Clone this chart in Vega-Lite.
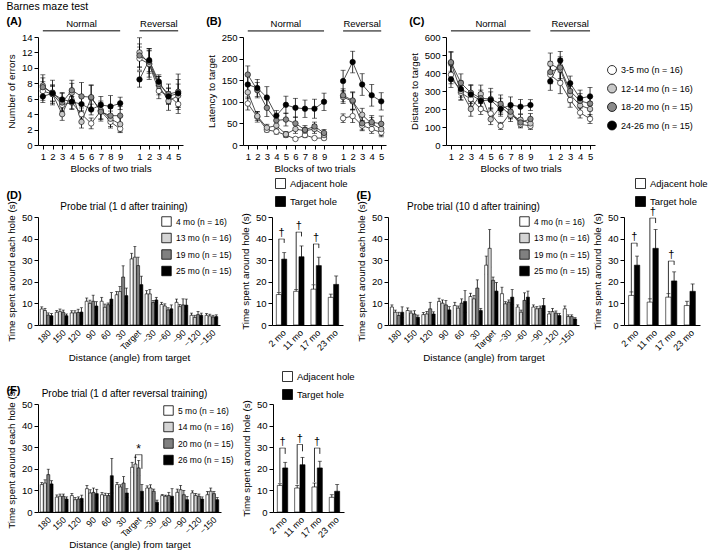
{
"$schema":"https://vega.github.io/schema/vega-lite/v6.json",
"padding":{"left":6,"top":2,"right":0,"bottom":0},
"title":{"text":"Barnes maze test","anchor":"start","frame":"bounds","fontSize":10.5,"fontWeight":"normal","offset":3},
"datasets":{
"phaseLines":[{"b":"N1","to":"N9"},{"b":"R1","to":"R5"}],
"phaseText":[{"p":"Normal","b":"N5"},{"p":"Reversal","b":"R3"}],
"errors":[
{"g":"3-5 mo (n = 16)","p":"Normal","b":"N1","v":7.0,"e":1.2},{"g":"12-14 mo (n = 16)","p":"Normal","b":"N1","v":7.7,"e":1.4},{"g":"18-20 mo (n = 15)","p":"Normal","b":"N1","v":7.5,"e":1.2},{"g":"24-26 mo (n = 15)","p":"Normal","b":"N1","v":6.3,"e":0.8},
{"g":"3-5 mo (n = 16)","p":"Normal","b":"N2","v":6.6,"e":1.0},{"g":"12-14 mo (n = 16)","p":"Normal","b":"N2","v":6.6,"e":1.2},{"g":"18-20 mo (n = 15)","p":"Normal","b":"N2","v":6.8,"e":1.6},{"g":"24-26 mo (n = 15)","p":"Normal","b":"N2","v":6.7,"e":1.0},
{"g":"3-5 mo (n = 16)","p":"Normal","b":"N3","v":5.2,"e":0.8},{"g":"12-14 mo (n = 16)","p":"Normal","b":"N3","v":4.0,"e":0.8},{"g":"18-20 mo (n = 15)","p":"Normal","b":"N3","v":5.5,"e":1.2},{"g":"24-26 mo (n = 15)","p":"Normal","b":"N3","v":5.9,"e":0.9},
{"g":"3-5 mo (n = 16)","p":"Normal","b":"N4","v":5.5,"e":0.8},{"g":"12-14 mo (n = 16)","p":"Normal","b":"N4","v":6.8,"e":1.2},{"g":"18-20 mo (n = 15)","p":"Normal","b":"N4","v":7.1,"e":1.3},{"g":"24-26 mo (n = 15)","p":"Normal","b":"N4","v":5.6,"e":1.0},
{"g":"3-5 mo (n = 16)","p":"Normal","b":"N5","v":4.0,"e":0.8},{"g":"12-14 mo (n = 16)","p":"Normal","b":"N5","v":3.0,"e":0.8},{"g":"18-20 mo (n = 15)","p":"Normal","b":"N5","v":6.3,"e":1.8},{"g":"24-26 mo (n = 15)","p":"Normal","b":"N5","v":5.3,"e":1.0},
{"g":"3-5 mo (n = 16)","p":"Normal","b":"N6","v":2.8,"e":0.7},{"g":"12-14 mo (n = 16)","p":"Normal","b":"N6","v":6.1,"e":1.6},{"g":"18-20 mo (n = 15)","p":"Normal","b":"N6","v":6.2,"e":1.6},{"g":"24-26 mo (n = 15)","p":"Normal","b":"N6","v":4.6,"e":0.7},
{"g":"3-5 mo (n = 16)","p":"Normal","b":"N7","v":4.4,"e":1.0},{"g":"12-14 mo (n = 16)","p":"Normal","b":"N7","v":4.5,"e":1.2},{"g":"18-20 mo (n = 15)","p":"Normal","b":"N7","v":4.3,"e":1.2},{"g":"24-26 mo (n = 15)","p":"Normal","b":"N7","v":5.2,"e":1.1},
{"g":"3-5 mo (n = 16)","p":"Normal","b":"N8","v":3.0,"e":0.8},{"g":"12-14 mo (n = 16)","p":"Normal","b":"N8","v":3.4,"e":1.0},{"g":"18-20 mo (n = 15)","p":"Normal","b":"N8","v":3.8,"e":1.0},{"g":"24-26 mo (n = 15)","p":"Normal","b":"N8","v":5.0,"e":1.4},
{"g":"3-5 mo (n = 16)","p":"Normal","b":"N9","v":2.1,"e":0.5},{"g":"12-14 mo (n = 16)","p":"Normal","b":"N9","v":2.7,"e":1.0},{"g":"18-20 mo (n = 15)","p":"Normal","b":"N9","v":3.8,"e":1.2},{"g":"24-26 mo (n = 15)","p":"Normal","b":"N9","v":5.4,"e":0.8},
{"g":"3-5 mo (n = 16)","p":"Reversal","b":"R1","v":11.2,"e":1.5},{"g":"12-14 mo (n = 16)","p":"Reversal","b":"R1","v":12.0,"e":1.9},{"g":"18-20 mo (n = 15)","p":"Reversal","b":"R1","v":11.6,"e":1.5},{"g":"24-26 mo (n = 15)","p":"Reversal","b":"R1","v":8.5,"e":1.0},
{"g":"3-5 mo (n = 16)","p":"Reversal","b":"R2","v":10.5,"e":1.7},{"g":"12-14 mo (n = 16)","p":"Reversal","b":"R2","v":10.5,"e":2.0},{"g":"18-20 mo (n = 15)","p":"Reversal","b":"R2","v":10.8,"e":1.5},{"g":"24-26 mo (n = 15)","p":"Reversal","b":"R2","v":11.0,"e":1.5},
{"g":"3-5 mo (n = 16)","p":"Reversal","b":"R3","v":7.0,"e":1.0},{"g":"12-14 mo (n = 16)","p":"Reversal","b":"R3","v":7.7,"e":1.2},{"g":"18-20 mo (n = 15)","p":"Reversal","b":"R3","v":7.9,"e":1.0},{"g":"24-26 mo (n = 15)","p":"Reversal","b":"R3","v":8.2,"e":0.9},
{"g":"3-5 mo (n = 16)","p":"Reversal","b":"R4","v":6.4,"e":1.0},{"g":"12-14 mo (n = 16)","p":"Reversal","b":"R4","v":5.7,"e":1.2},{"g":"18-20 mo (n = 15)","p":"Reversal","b":"R4","v":6.6,"e":1.3},{"g":"24-26 mo (n = 15)","p":"Reversal","b":"R4","v":6.3,"e":1.0},
{"g":"3-5 mo (n = 16)","p":"Reversal","b":"R5","v":5.3,"e":1.2},{"g":"12-14 mo (n = 16)","p":"Reversal","b":"R5","v":6.4,"e":1.5},{"g":"18-20 mo (n = 15)","p":"Reversal","b":"R5","v":6.9,"e":2.3},{"g":"24-26 mo (n = 15)","p":"Reversal","b":"R5","v":6.7,"e":1.8}
],
"latency":[
{"g":"3-5 mo (n = 16)","p":"Normal","b":"N1","v":96,"e":15},{"g":"12-14 mo (n = 16)","p":"Normal","b":"N1","v":122,"e":15},{"g":"18-20 mo (n = 15)","p":"Normal","b":"N1","v":163,"e":20},{"g":"24-26 mo (n = 15)","p":"Normal","b":"N1","v":140,"e":20},
{"g":"3-5 mo (n = 16)","p":"Normal","b":"N2","v":65,"e":12},{"g":"12-14 mo (n = 16)","p":"Normal","b":"N2","v":67,"e":10},{"g":"18-20 mo (n = 15)","p":"Normal","b":"N2","v":127,"e":18},{"g":"24-26 mo (n = 15)","p":"Normal","b":"N2","v":132,"e":20},
{"g":"3-5 mo (n = 16)","p":"Normal","b":"N3","v":35,"e":5},{"g":"12-14 mo (n = 16)","p":"Normal","b":"N3","v":40,"e":8},{"g":"18-20 mo (n = 15)","p":"Normal","b":"N3","v":86,"e":20},{"g":"24-26 mo (n = 15)","p":"Normal","b":"N3","v":110,"e":25},
{"g":"3-5 mo (n = 16)","p":"Normal","b":"N4","v":31,"e":6},{"g":"12-14 mo (n = 16)","p":"Normal","b":"N4","v":45,"e":10},{"g":"18-20 mo (n = 15)","p":"Normal","b":"N4","v":57,"e":12},{"g":"24-26 mo (n = 15)","p":"Normal","b":"N4","v":68,"e":12},
{"g":"3-5 mo (n = 16)","p":"Normal","b":"N5","v":23,"e":5},{"g":"12-14 mo (n = 16)","p":"Normal","b":"N5","v":25,"e":6},{"g":"18-20 mo (n = 15)","p":"Normal","b":"N5","v":59,"e":15},{"g":"24-26 mo (n = 15)","p":"Normal","b":"N5","v":93,"e":20},
{"g":"3-5 mo (n = 16)","p":"Normal","b":"N6","v":14,"e":3},{"g":"12-14 mo (n = 16)","p":"Normal","b":"N6","v":37,"e":10},{"g":"18-20 mo (n = 15)","p":"Normal","b":"N6","v":50,"e":15},{"g":"24-26 mo (n = 15)","p":"Normal","b":"N6","v":86,"e":22},
{"g":"3-5 mo (n = 16)","p":"Normal","b":"N7","v":23,"e":6},{"g":"12-14 mo (n = 16)","p":"Normal","b":"N7","v":33,"e":8},{"g":"18-20 mo (n = 15)","p":"Normal","b":"N7","v":35,"e":10},{"g":"24-26 mo (n = 15)","p":"Normal","b":"N7","v":84,"e":20},
{"g":"3-5 mo (n = 16)","p":"Normal","b":"N8","v":16,"e":3},{"g":"12-14 mo (n = 16)","p":"Normal","b":"N8","v":37,"e":10},{"g":"18-20 mo (n = 15)","p":"Normal","b":"N8","v":43,"e":10},{"g":"24-26 mo (n = 15)","p":"Normal","b":"N8","v":84,"e":22},
{"g":"3-5 mo (n = 16)","p":"Normal","b":"N9","v":16,"e":4},{"g":"12-14 mo (n = 16)","p":"Normal","b":"N9","v":23,"e":6},{"g":"18-20 mo (n = 15)","p":"Normal","b":"N9","v":28,"e":8},{"g":"24-26 mo (n = 15)","p":"Normal","b":"N9","v":100,"e":20},
{"g":"3-5 mo (n = 16)","p":"Reversal","b":"R1","v":62,"e":10},{"g":"12-14 mo (n = 16)","p":"Reversal","b":"R1","v":111,"e":15},{"g":"18-20 mo (n = 15)","p":"Reversal","b":"R1","v":115,"e":15},{"g":"24-26 mo (n = 15)","p":"Reversal","b":"R1","v":148,"e":25},
{"g":"3-5 mo (n = 16)","p":"Reversal","b":"R2","v":67,"e":15},{"g":"12-14 mo (n = 16)","p":"Reversal","b":"R2","v":101,"e":20},{"g":"18-20 mo (n = 15)","p":"Reversal","b":"R2","v":103,"e":20},{"g":"24-26 mo (n = 15)","p":"Reversal","b":"R2","v":192,"e":25},
{"g":"3-5 mo (n = 16)","p":"Reversal","b":"R3","v":45,"e":12},{"g":"12-14 mo (n = 16)","p":"Reversal","b":"R3","v":70,"e":15},{"g":"18-20 mo (n = 15)","p":"Reversal","b":"R3","v":50,"e":15},{"g":"24-26 mo (n = 15)","p":"Reversal","b":"R3","v":140,"e":25},
{"g":"3-5 mo (n = 16)","p":"Reversal","b":"R4","v":37,"e":10},{"g":"12-14 mo (n = 16)","p":"Reversal","b":"R4","v":49,"e":15},{"g":"18-20 mo (n = 15)","p":"Reversal","b":"R4","v":53,"e":15},{"g":"24-26 mo (n = 15)","p":"Reversal","b":"R4","v":115,"e":25},
{"g":"3-5 mo (n = 16)","p":"Reversal","b":"R5","v":29,"e":10},{"g":"12-14 mo (n = 16)","p":"Reversal","b":"R5","v":37,"e":15},{"g":"18-20 mo (n = 15)","p":"Reversal","b":"R5","v":49,"e":18},{"g":"24-26 mo (n = 15)","p":"Reversal","b":"R5","v":101,"e":20}
],
"distance":[
{"g":"3-5 mo (n = 16)","p":"Normal","b":"N1","v":390,"e":50},{"g":"12-14 mo (n = 16)","p":"Normal","b":"N1","v":455,"e":60},{"g":"18-20 mo (n = 15)","p":"Normal","b":"N1","v":460,"e":60},{"g":"24-26 mo (n = 15)","p":"Normal","b":"N1","v":365,"e":45},
{"g":"3-5 mo (n = 16)","p":"Normal","b":"N2","v":290,"e":40},{"g":"12-14 mo (n = 16)","p":"Normal","b":"N2","v":300,"e":50},{"g":"18-20 mo (n = 15)","p":"Normal","b":"N2","v":345,"e":50},{"g":"24-26 mo (n = 15)","p":"Normal","b":"N2","v":311,"e":45},
{"g":"3-5 mo (n = 16)","p":"Normal","b":"N3","v":255,"e":40},{"g":"12-14 mo (n = 16)","p":"Normal","b":"N3","v":200,"e":40},{"g":"18-20 mo (n = 15)","p":"Normal","b":"N3","v":290,"e":45},{"g":"24-26 mo (n = 15)","p":"Normal","b":"N3","v":280,"e":50},
{"g":"3-5 mo (n = 16)","p":"Normal","b":"N4","v":200,"e":30},{"g":"12-14 mo (n = 16)","p":"Normal","b":"N4","v":283,"e":50},{"g":"18-20 mo (n = 15)","p":"Normal","b":"N4","v":260,"e":45},{"g":"24-26 mo (n = 15)","p":"Normal","b":"N4","v":246,"e":45},
{"g":"3-5 mo (n = 16)","p":"Normal","b":"N5","v":175,"e":30},{"g":"12-14 mo (n = 16)","p":"Normal","b":"N5","v":143,"e":30},{"g":"18-20 mo (n = 15)","p":"Normal","b":"N5","v":255,"e":60},{"g":"24-26 mo (n = 15)","p":"Normal","b":"N5","v":250,"e":45},
{"g":"3-5 mo (n = 16)","p":"Normal","b":"N6","v":106,"e":20},{"g":"12-14 mo (n = 16)","p":"Normal","b":"N6","v":215,"e":45},{"g":"18-20 mo (n = 15)","p":"Normal","b":"N6","v":228,"e":50},{"g":"24-26 mo (n = 15)","p":"Normal","b":"N6","v":200,"e":40},
{"g":"3-5 mo (n = 16)","p":"Normal","b":"N7","v":180,"e":30},{"g":"12-14 mo (n = 16)","p":"Normal","b":"N7","v":165,"e":35},{"g":"18-20 mo (n = 15)","p":"Normal","b":"N7","v":185,"e":40},{"g":"24-26 mo (n = 15)","p":"Normal","b":"N7","v":222,"e":45},
{"g":"3-5 mo (n = 16)","p":"Normal","b":"N8","v":115,"e":20},{"g":"12-14 mo (n = 16)","p":"Normal","b":"N8","v":140,"e":30},{"g":"18-20 mo (n = 15)","p":"Normal","b":"N8","v":125,"e":25},{"g":"24-26 mo (n = 15)","p":"Normal","b":"N8","v":213,"e":40},
{"g":"3-5 mo (n = 16)","p":"Normal","b":"N9","v":106,"e":20},{"g":"12-14 mo (n = 16)","p":"Normal","b":"N9","v":120,"e":25},{"g":"18-20 mo (n = 15)","p":"Normal","b":"N9","v":145,"e":30},{"g":"24-26 mo (n = 15)","p":"Normal","b":"N9","v":222,"e":30},
{"g":"3-5 mo (n = 16)","p":"Reversal","b":"R1","v":390,"e":50},{"g":"12-14 mo (n = 16)","p":"Reversal","b":"R1","v":451,"e":60},{"g":"18-20 mo (n = 15)","p":"Reversal","b":"R1","v":405,"e":60},{"g":"24-26 mo (n = 15)","p":"Reversal","b":"R1","v":354,"e":50},
{"g":"3-5 mo (n = 16)","p":"Reversal","b":"R2","v":345,"e":60},{"g":"12-14 mo (n = 16)","p":"Reversal","b":"R2","v":420,"e":60},{"g":"18-20 mo (n = 15)","p":"Reversal","b":"R2","v":430,"e":60},{"g":"24-26 mo (n = 15)","p":"Reversal","b":"R2","v":470,"e":50},
{"g":"3-5 mo (n = 16)","p":"Reversal","b":"R3","v":250,"e":40},{"g":"12-14 mo (n = 16)","p":"Reversal","b":"R3","v":280,"e":45},{"g":"18-20 mo (n = 15)","p":"Reversal","b":"R3","v":300,"e":45},{"g":"24-26 mo (n = 15)","p":"Reversal","b":"R3","v":343,"e":40},
{"g":"3-5 mo (n = 16)","p":"Reversal","b":"R4","v":180,"e":30},{"g":"12-14 mo (n = 16)","p":"Reversal","b":"R4","v":220,"e":40},{"g":"18-20 mo (n = 15)","p":"Reversal","b":"R4","v":245,"e":40},{"g":"24-26 mo (n = 15)","p":"Reversal","b":"R4","v":260,"e":45},
{"g":"3-5 mo (n = 16)","p":"Reversal","b":"R5","v":145,"e":25},{"g":"12-14 mo (n = 16)","p":"Reversal","b":"R5","v":200,"e":40},{"g":"18-20 mo (n = 15)","p":"Reversal","b":"R5","v":230,"e":40},{"g":"24-26 mo (n = 15)","p":"Reversal","b":"R5","v":270,"e":50}
],
"d1":[
{"c":"180","a":"4 mo (n = 16)","v":7.4,"e":1.0},{"c":"180","a":"13 mo (n = 16)","v":6.7,"e":1.0},{"c":"180","a":"19 mo (n = 15)","v":4.6,"e":1.0},{"c":"180","a":"25 mo (n = 15)","v":4.3,"e":1.0},
{"c":"150","a":"4 mo (n = 16)","v":5.9,"e":0.8},{"c":"150","a":"13 mo (n = 16)","v":6.2,"e":1.2},{"c":"150","a":"19 mo (n = 15)","v":5.9,"e":1.0},{"c":"150","a":"25 mo (n = 15)","v":4.3,"e":0.8},
{"c":"120","a":"4 mo (n = 16)","v":5.6,"e":1.0},{"c":"120","a":"13 mo (n = 16)","v":5.6,"e":1.0},{"c":"120","a":"19 mo (n = 15)","v":5.8,"e":1.5},{"c":"120","a":"25 mo (n = 15)","v":6.0,"e":2.0},
{"c":"90","a":"4 mo (n = 16)","v":11.0,"e":1.5},{"c":"90","a":"13 mo (n = 16)","v":10.0,"e":1.5},{"c":"90","a":"19 mo (n = 15)","v":11.0,"e":2.8},{"c":"90","a":"25 mo (n = 15)","v":8.8,"e":2.0},
{"c":"60","a":"4 mo (n = 16)","v":11.0,"e":1.8},{"c":"60","a":"13 mo (n = 16)","v":8.2,"e":1.5},{"c":"60","a":"19 mo (n = 15)","v":9.4,"e":0.8},{"c":"60","a":"25 mo (n = 15)","v":12.0,"e":3.0},
{"c":"30","a":"4 mo (n = 16)","v":14.0,"e":1.5},{"c":"30","a":"13 mo (n = 16)","v":15.5,"e":2.3},{"c":"30","a":"19 mo (n = 15)","v":22.2,"e":5.2},{"c":"30","a":"25 mo (n = 15)","v":13.6,"e":3.5},
{"c":"Target","a":"4 mo (n = 16)","v":30.6,"e":2.6},{"c":"Target","a":"13 mo (n = 16)","v":31.4,"e":5.0},{"c":"Target","a":"19 mo (n = 15)","v":27.5,"e":3.9},{"c":"Target","a":"25 mo (n = 15)","v":18.7,"e":3.9},
{"c":"−30","a":"4 mo (n = 16)","v":14.4,"e":1.5},{"c":"−30","a":"13 mo (n = 16)","v":14.4,"e":2.0},{"c":"−30","a":"19 mo (n = 15)","v":10.4,"e":1.0},{"c":"−30","a":"25 mo (n = 15)","v":11.6,"e":1.2},
{"c":"−60","a":"4 mo (n = 16)","v":9.5,"e":1.0},{"c":"−60","a":"13 mo (n = 16)","v":8.8,"e":1.0},{"c":"−60","a":"19 mo (n = 15)","v":7.0,"e":1.0},{"c":"−60","a":"25 mo (n = 15)","v":7.5,"e":1.8},
{"c":"−90","a":"4 mo (n = 16)","v":10.5,"e":1.5},{"c":"−90","a":"13 mo (n = 16)","v":8.5,"e":1.0},{"c":"−90","a":"19 mo (n = 15)","v":9.3,"e":2.8},{"c":"−90","a":"25 mo (n = 15)","v":9.2,"e":2.8},
{"c":"−120","a":"4 mo (n = 16)","v":4.5,"e":1.0},{"c":"−120","a":"13 mo (n = 16)","v":3.5,"e":1.0},{"c":"−120","a":"19 mo (n = 15)","v":4.8,"e":1.5},{"c":"−120","a":"25 mo (n = 15)","v":4.5,"e":1.0},
{"c":"−150","a":"4 mo (n = 16)","v":4.5,"e":0.8},{"c":"−150","a":"13 mo (n = 16)","v":4.2,"e":0.8},{"c":"−150","a":"19 mo (n = 15)","v":3.7,"e":0.8},{"c":"−150","a":"25 mo (n = 15)","v":3.9,"e":0.8}
],
"d10":[
{"c":"180","a":"4 mo (n = 16)","v":8.3,"e":1.0},{"c":"180","a":"13 mo (n = 16)","v":5.9,"e":1.0},{"c":"180","a":"19 mo (n = 15)","v":4.4,"e":1.5},{"c":"180","a":"25 mo (n = 15)","v":5.9,"e":2.5},
{"c":"150","a":"4 mo (n = 16)","v":6.7,"e":1.2},{"c":"150","a":"13 mo (n = 16)","v":5.5,"e":1.0},{"c":"150","a":"19 mo (n = 15)","v":5.1,"e":1.5},{"c":"150","a":"25 mo (n = 15)","v":3.6,"e":1.0},
{"c":"120","a":"4 mo (n = 16)","v":4.8,"e":1.0},{"c":"120","a":"13 mo (n = 16)","v":5.1,"e":1.2},{"c":"120","a":"19 mo (n = 15)","v":7.5,"e":3.0},{"c":"120","a":"25 mo (n = 15)","v":5.1,"e":1.0},
{"c":"90","a":"4 mo (n = 16)","v":10.9,"e":1.5},{"c":"90","a":"13 mo (n = 16)","v":10.1,"e":1.5},{"c":"90","a":"19 mo (n = 15)","v":9.3,"e":2.0},{"c":"90","a":"25 mo (n = 15)","v":7.0,"e":1.5},
{"c":"60","a":"4 mo (n = 16)","v":9.0,"e":1.5},{"c":"60","a":"13 mo (n = 16)","v":7.8,"e":1.0},{"c":"60","a":"19 mo (n = 15)","v":10.1,"e":2.0},{"c":"60","a":"25 mo (n = 15)","v":10.9,"e":5.0},
{"c":"30","a":"4 mo (n = 16)","v":13.2,"e":1.5},{"c":"30","a":"13 mo (n = 16)","v":12.1,"e":1.5},{"c":"30","a":"19 mo (n = 15)","v":17.1,"e":3.8},{"c":"30","a":"25 mo (n = 15)","v":6.7,"e":1.0},
{"c":"Target","a":"4 mo (n = 16)","v":27.7,"e":4.2},{"c":"Target","a":"13 mo (n = 16)","v":35.5,"e":8.7},{"c":"Target","a":"19 mo (n = 15)","v":20.7,"e":1.5},{"c":"Target","a":"25 mo (n = 15)","v":15.7,"e":4.0},
{"c":"−30","a":"4 mo (n = 16)","v":14.5,"e":3.0},{"c":"−30","a":"13 mo (n = 16)","v":9.8,"e":1.0},{"c":"−30","a":"19 mo (n = 15)","v":10.6,"e":1.0},{"c":"−30","a":"25 mo (n = 15)","v":12.9,"e":3.5},
{"c":"−60","a":"4 mo (n = 16)","v":8.3,"e":1.0},{"c":"−60","a":"13 mo (n = 16)","v":5.9,"e":1.0},{"c":"−60","a":"19 mo (n = 15)","v":11.4,"e":3.5},{"c":"−60","a":"25 mo (n = 15)","v":12.9,"e":2.8},
{"c":"−90","a":"4 mo (n = 16)","v":8.3,"e":1.0},{"c":"−90","a":"13 mo (n = 16)","v":7.5,"e":1.0},{"c":"−90","a":"19 mo (n = 15)","v":7.8,"e":1.0},{"c":"−90","a":"25 mo (n = 15)","v":9.0,"e":3.3},
{"c":"−120","a":"4 mo (n = 16)","v":5.1,"e":1.2},{"c":"−120","a":"13 mo (n = 16)","v":6.2,"e":1.5},{"c":"−120","a":"19 mo (n = 15)","v":5.5,"e":1.0},{"c":"−120","a":"25 mo (n = 15)","v":4.4,"e":1.0},
{"c":"−150","a":"4 mo (n = 16)","v":7.5,"e":1.3},{"c":"−150","a":"13 mo (n = 16)","v":3.9,"e":0.8},{"c":"−150","a":"19 mo (n = 15)","v":3.9,"e":0.8},{"c":"−150","a":"25 mo (n = 15)","v":2.8,"e":0.6}
],
"rev":[
{"c":"180","a":"5 mo (n = 16)","v":12.7,"e":1.0},{"c":"180","a":"14 mo (n = 16)","v":13.4,"e":1.5},{"c":"180","a":"20 mo (n = 15)","v":17.3,"e":2.5},{"c":"180","a":"26 mo (n = 15)","v":13.0,"e":1.5},
{"c":"150","a":"5 mo (n = 16)","v":6.9,"e":1.0},{"c":"150","a":"14 mo (n = 16)","v":7.3,"e":1.0},{"c":"150","a":"20 mo (n = 15)","v":7.3,"e":1.0},{"c":"150","a":"26 mo (n = 15)","v":6.0,"e":1.0},
{"c":"120","a":"5 mo (n = 16)","v":7.6,"e":1.0},{"c":"120","a":"14 mo (n = 16)","v":5.7,"e":1.0},{"c":"120","a":"20 mo (n = 15)","v":6.0,"e":1.0},{"c":"120","a":"26 mo (n = 15)","v":6.3,"e":1.5},
{"c":"90","a":"5 mo (n = 16)","v":10.8,"e":1.5},{"c":"90","a":"14 mo (n = 16)","v":8.8,"e":1.5},{"c":"90","a":"20 mo (n = 15)","v":9.1,"e":2.0},{"c":"90","a":"26 mo (n = 15)","v":8.5,"e":2.0},
{"c":"60","a":"5 mo (n = 16)","v":8.0,"e":1.0},{"c":"60","a":"14 mo (n = 16)","v":7.7,"e":1.0},{"c":"60","a":"20 mo (n = 15)","v":7.6,"e":1.0},{"c":"60","a":"26 mo (n = 15)","v":16.8,"e":8.0},
{"c":"30","a":"5 mo (n = 16)","v":12.7,"e":1.0},{"c":"30","a":"14 mo (n = 16)","v":11.6,"e":1.0},{"c":"30","a":"20 mo (n = 15)","v":13.4,"e":3.0},{"c":"30","a":"26 mo (n = 15)","v":8.8,"e":2.0},
{"c":"Target","a":"5 mo (n = 16)","v":20.7,"e":2.3},{"c":"Target","a":"14 mo (n = 16)","v":22.2,"e":3.2},{"c":"Target","a":"20 mo (n = 15)","v":20.4,"e":3.5},{"c":"Target","a":"26 mo (n = 15)","v":9.6,"e":3.1},
{"c":"−30","a":"5 mo (n = 16)","v":11.1,"e":1.0},{"c":"−30","a":"14 mo (n = 16)","v":11.1,"e":1.5},{"c":"−30","a":"20 mo (n = 15)","v":9.6,"e":1.0},{"c":"−30","a":"26 mo (n = 15)","v":4.5,"e":1.0},
{"c":"−60","a":"5 mo (n = 16)","v":7.6,"e":0.5},{"c":"−60","a":"14 mo (n = 16)","v":7.3,"e":0.5},{"c":"−60","a":"20 mo (n = 15)","v":7.6,"e":1.5},{"c":"−60","a":"26 mo (n = 15)","v":7.3,"e":3.5},
{"c":"−90","a":"5 mo (n = 16)","v":9.1,"e":1.5},{"c":"−90","a":"14 mo (n = 16)","v":10.3,"e":2.0},{"c":"−90","a":"20 mo (n = 15)","v":8.0,"e":2.0},{"c":"−90","a":"26 mo (n = 15)","v":5.7,"e":1.5},
{"c":"−120","a":"5 mo (n = 16)","v":8.8,"e":1.0},{"c":"−120","a":"14 mo (n = 16)","v":7.6,"e":1.0},{"c":"−120","a":"20 mo (n = 15)","v":7.3,"e":1.0},{"c":"−120","a":"26 mo (n = 15)","v":6.0,"e":1.0},
{"c":"−150","a":"5 mo (n = 16)","v":8.0,"e":1.5},{"c":"−150","a":"14 mo (n = 16)","v":9.6,"e":1.5},{"c":"−150","a":"20 mo (n = 15)","v":8.5,"e":1.0},{"c":"−150","a":"26 mo (n = 15)","v":5.7,"e":1.0}
],
"d1h":[
{"age":"2 mo","h":"Adjacent hole","v":14.1,"e":1.0},{"age":"2 mo","h":"Target hole","v":30.5,"e":3.0},
{"age":"11 mo","h":"Adjacent hole","v":15.6,"e":0.8},{"age":"11 mo","h":"Target hole","v":31.6,"e":5.0},
{"age":"17 mo","h":"Adjacent hole","v":16.6,"e":2.0},{"age":"17 mo","h":"Target hole","v":27.5,"e":3.9},
{"age":"23 mo","h":"Adjacent hole","v":12.8,"e":1.5},{"age":"23 mo","h":"Target hole","v":18.8,"e":3.9}
],
"d10h":[
{"age":"2 mo","h":"Adjacent hole","v":13.7,"e":1.6},{"age":"2 mo","h":"Target hole","v":27.7,"e":4.2},
{"age":"11 mo","h":"Adjacent hole","v":10.6,"e":1.5},{"age":"11 mo","h":"Target hole","v":35.5,"e":8.7},
{"age":"17 mo","h":"Adjacent hole","v":12.9,"e":1.6},{"age":"17 mo","h":"Target hole","v":20.4,"e":4.2},
{"age":"23 mo","h":"Adjacent hole","v":9.0,"e":2.0},{"age":"23 mo","h":"Target hole","v":15.6,"e":3.4}
],
"revh":[
{"age":"2 mo","h":"Adjacent hole","v":12.3,"e":0.8},{"age":"2 mo","h":"Target hole","v":20.4,"e":2.6},
{"age":"11 mo","h":"Adjacent hole","v":11.1,"e":1.2},{"age":"11 mo","h":"Target hole","v":21.9,"e":3.4},
{"age":"17 mo","h":"Adjacent hole","v":11.6,"e":1.8},{"age":"17 mo","h":"Target hole","v":20.4,"e":3.1},
{"age":"23 mo","h":"Adjacent hole","v":6.8,"e":1.2},{"age":"23 mo","h":"Target hole","v":9.6,"e":3.1}
],
"sigD":[{"age":"2 mo","s":"†","lvl":39.8,"adj":15.3,"tgt":38.0},{"age":"11 mo","s":"†","lvl":43.0,"adj":16.5,"tgt":41.0},{"age":"17 mo","s":"†","lvl":37.5,"adj":18.7,"tgt":35.6}],
"sigE":[{"age":"2 mo","s":"†","lvl":37.9,"adj":15.3,"tgt":36.3},{"age":"11 mo","s":"†","lvl":49.5,"adj":12.1,"tgt":47.2},{"age":"17 mo","s":"†","lvl":29.6,"adj":14.5,"tgt":27.8}],
"sigF":[{"age":"2 mo","s":"†","lvl":29.6,"adj":13.5,"tgt":26.9},{"age":"11 mo","s":"†","lvl":31.2,"adj":12.8,"tgt":28.1},{"age":"17 mo","s":"†","lvl":29.6,"adj":13.8,"tgt":26.9}],
"starF":[{"c":"Target","s":"*","lvl":26.5,"left":"14 mo (n = 16)","mid":"20 mo (n = 15)","right":"26 mo (n = 15)","lo1":25.0,"lo2":20.0}]
},
"spacing":4,
"resolve":{"scale":{"fill":"independent","xOffset":"independent"},"legend":{"fill":"independent"}},
"vconcat":[
{"hconcat":[
 {"width":145,"height":108,
  "title":{"text":"(A)","anchor":"start","frame":"bounds","fontSize":11,"fontWeight":"bold","offset":-8},
  "encoding":{
   "x":{"field":"b","type":"ordinal","scale":{"type":"point","domain":["N1","N2","N3","N4","N5","N6","N7","N8","N9","gap","R1","R2","R3","R4","R5"],"padding":0.5},"axis":{"values":["N1","N2","N3","N4","N5","N6","N7","N8","N9","R1","R2","R3","R4","R5"],"labelExpr":"substring(datum.value,1)","labelAngle":0,"titlePadding":3},"title":"Blocks of two trials"}},
  "layer":[
   {"data":{"name":"phaseLines"},"mark":{"type":"rule","color":"black","strokeWidth":1},"encoding":{"x2":{"field":"to"},"y":{"datum":14.8,"type":"quantitative","scale":{"domain":[0,14],"nice":false},"axis":{"values":[0,2,4,6,8,10,12,14]},"title":"Number of errors"}}},
   {"data":{"name":"phaseText"},"mark":{"type":"text","baseline":"bottom","dy":-2,"fontSize":9.5,"color":"black"},"encoding":{"y":{"datum":14.8,"type":"quantitative","scale":{"domain":[0,14],"nice":false},"axis":{"values":[0,2,4,6,8,10,12,14]},"title":"Number of errors"},"text":{"field":"p"}}},
   {"data":{"name":"errors"},"mark":{"type":"line","color":"#222","strokeWidth":0.8},"encoding":{"y":{"field":"v","type":"quantitative","scale":{"domain":[0,14],"nice":false},"axis":{"values":[0,2,4,6,8,10,12,14]},"title":"Number of errors"},"detail":[{"field":"g"},{"field":"p"}]}},
   {"data":{"name":"errors"},"mark":{"type":"errorbar","ticks":{"size":5},"color":"black","thickness":0.8},"encoding":{"y":{"field":"v","type":"quantitative","scale":{"domain":[0,14],"nice":false},"axis":{"values":[0,2,4,6,8,10,12,14]},"title":"Number of errors"},"yError":{"field":"e"}}},
   {"data":{"name":"errors"},"mark":{"type":"point","filled":true,"size":30,"stroke":"black","strokeWidth":0.6,"opacity":1},"encoding":{"y":{"field":"v","type":"quantitative","scale":{"domain":[0,14],"nice":false},"axis":{"values":[0,2,4,6,8,10,12,14]},"title":"Number of errors"},"fill":{"field":"g","type":"nominal","scale":{"domain":["3-5 mo (n = 16)","12-14 mo (n = 16)","18-20 mo (n = 15)","24-26 mo (n = 15)"],"range":["white","#c8c8c8","#8a8a8a","black"]},"legend":null}}}
  ]},
 {"width":143,"height":108,
  "title":{"text":"(B)","anchor":"start","frame":"bounds","fontSize":11,"fontWeight":"bold","offset":-8},
  "encoding":{
   "x":{"field":"b","type":"ordinal","scale":{"type":"point","domain":["N1","N2","N3","N4","N5","N6","N7","N8","N9","gap","R1","R2","R3","R4","R5"],"padding":0.5},"axis":{"values":["N1","N2","N3","N4","N5","N6","N7","N8","N9","R1","R2","R3","R4","R5"],"labelExpr":"substring(datum.value,1)","labelAngle":0,"titlePadding":3},"title":"Blocks of two trials"}},
  "layer":[
   {"data":{"name":"phaseLines"},"mark":{"type":"rule","color":"black","strokeWidth":1},"encoding":{"x2":{"field":"to"},"y":{"datum":264,"type":"quantitative","scale":{"domain":[0,250],"nice":false},"axis":{"values":[0,50,100,150,200,250]},"title":"Latency to target"}}},
   {"data":{"name":"phaseText"},"mark":{"type":"text","baseline":"bottom","dy":-2,"fontSize":9.5,"color":"black"},"encoding":{"y":{"datum":264,"type":"quantitative","scale":{"domain":[0,250],"nice":false},"axis":{"values":[0,50,100,150,200,250]},"title":"Latency to target"},"text":{"field":"p"}}},
   {"data":{"name":"latency"},"mark":{"type":"line","color":"#222","strokeWidth":0.8},"encoding":{"y":{"field":"v","type":"quantitative","scale":{"domain":[0,250],"nice":false},"axis":{"values":[0,50,100,150,200,250]},"title":"Latency to target"},"detail":[{"field":"g"},{"field":"p"}]}},
   {"data":{"name":"latency"},"mark":{"type":"errorbar","ticks":{"size":5},"color":"black","thickness":0.8},"encoding":{"y":{"field":"v","type":"quantitative","scale":{"domain":[0,250],"nice":false},"axis":{"values":[0,50,100,150,200,250]},"title":"Latency to target"},"yError":{"field":"e"}}},
   {"data":{"name":"latency"},"mark":{"type":"point","filled":true,"size":30,"stroke":"black","strokeWidth":0.6,"opacity":1},"encoding":{"y":{"field":"v","type":"quantitative","scale":{"domain":[0,250],"nice":false},"axis":{"values":[0,50,100,150,200,250]},"title":"Latency to target"},"fill":{"field":"g","type":"nominal","scale":{"domain":["3-5 mo (n = 16)","12-14 mo (n = 16)","18-20 mo (n = 15)","24-26 mo (n = 15)"],"range":["white","#c8c8c8","#8a8a8a","black"]},"legend":null}}}
  ]},
 {"width":149,"height":108,
  "title":{"text":"(C)","anchor":"start","frame":"bounds","fontSize":11,"fontWeight":"bold","offset":-8},
  "encoding":{
   "x":{"field":"b","type":"ordinal","scale":{"type":"point","domain":["N1","N2","N3","N4","N5","N6","N7","N8","N9","gap","R1","R2","R3","R4","R5"],"padding":0.5},"axis":{"values":["N1","N2","N3","N4","N5","N6","N7","N8","N9","R1","R2","R3","R4","R5"],"labelExpr":"substring(datum.value,1)","labelAngle":0,"titlePadding":3},"title":"Blocks of two trials"}},
  "layer":[
   {"data":{"name":"phaseLines"},"mark":{"type":"rule","color":"black","strokeWidth":1},"encoding":{"x2":{"field":"to"},"y":{"datum":634,"type":"quantitative","scale":{"domain":[0,600],"nice":false},"axis":{"values":[0,100,200,300,400,500,600]},"title":"Distance to target"}}},
   {"data":{"name":"phaseText"},"mark":{"type":"text","baseline":"bottom","dy":-2,"fontSize":9.5,"color":"black"},"encoding":{"y":{"datum":634,"type":"quantitative","scale":{"domain":[0,600],"nice":false},"axis":{"values":[0,100,200,300,400,500,600]},"title":"Distance to target"},"text":{"field":"p"}}},
   {"data":{"name":"distance"},"mark":{"type":"line","color":"#222","strokeWidth":0.8},"encoding":{"y":{"field":"v","type":"quantitative","scale":{"domain":[0,600],"nice":false},"axis":{"values":[0,100,200,300,400,500,600]},"title":"Distance to target"},"detail":[{"field":"g"},{"field":"p"}]}},
   {"data":{"name":"distance"},"mark":{"type":"errorbar","ticks":{"size":5},"color":"black","thickness":0.8},"encoding":{"y":{"field":"v","type":"quantitative","scale":{"domain":[0,600],"nice":false},"axis":{"values":[0,100,200,300,400,500,600]},"title":"Distance to target"},"yError":{"field":"e"}}},
   {"data":{"name":"distance"},"mark":{"type":"point","filled":true,"size":30,"stroke":"black","strokeWidth":0.6,"opacity":1},"encoding":{"y":{"field":"v","type":"quantitative","scale":{"domain":[0,600],"nice":false},"axis":{"values":[0,100,200,300,400,500,600]},"title":"Distance to target"},"fill":{"field":"g","type":"nominal","scale":{"domain":["3-5 mo (n = 16)","12-14 mo (n = 16)","18-20 mo (n = 15)","24-26 mo (n = 15)"],"range":["white","#c8c8c8","#8a8a8a","black"]},"legend":{"orient":"none","legendX":161,"legendY":28,"title":null,"symbolType":"circle","symbolSize":80,"symbolStrokeColor":"black","symbolStrokeWidth":0.8,"labelFontSize":9,"rowPadding":4.5}}}}
  ]}
 ],
 "spacing":23,
 "resolve":{"scale":{"fill":"independent"},"legend":{"fill":"independent"}}
},
{"vconcat":[
 {"hconcat":[
  {"hconcat":[
   {"width":182,"height":108,
    "title":{"text":"Probe trial (1 d after training)","anchor":"middle","frame":"group","fontSize":10,"fontWeight":"normal","offset":-11,"dx":-5},
    "encoding":{
     "x":{"field":"c","type":"nominal","scale":{"domain":["180","150","120","90","60","30","Target","−30","−60","−90","−120","−150"],"paddingInner":0.15,"paddingOuter":0.15},"axis":{"labelAngle":-45,"ticks":false,"labelFontSize":8.8,"labelPadding":3,"titlePadding":1},"title":"Distance (angle) from target"},
     "y":{"field":"v","type":"quantitative","scale":{"domain":[0,50],"nice":false},"axis":{"values":[0,10,20,30,40,50]},"title":"Time spent around each hole (s)"}},
    "layer":[
     {"data":{"name":"d1"},"mark":{"type":"errorbar","ticks":{"size":3},"color":"black","thickness":0.8},"encoding":{"xOffset":{"field":"a","type":"nominal","scale":{"domain":["4 mo (n = 16)","13 mo (n = 16)","19 mo (n = 15)","25 mo (n = 15)"],"paddingInner":0.08}},"yError":{"field":"e"}}},
     {"data":{"name":"d1"},"mark":{"type":"bar","stroke":"black","strokeWidth":0.6},"encoding":{"xOffset":{"field":"a","type":"nominal","scale":{"domain":["4 mo (n = 16)","13 mo (n = 16)","19 mo (n = 15)","25 mo (n = 15)"],"paddingInner":0.08}},"fill":{"field":"a","type":"nominal","scale":{"domain":["4 mo (n = 16)","13 mo (n = 16)","19 mo (n = 15)","25 mo (n = 15)"],"range":["white","#d4d4d4","#808080","black"]},"legend":{"orient":"none","legendX":123,"legendY":-1,"title":null,"symbolType":"square","symbolSize":90,"symbolStrokeColor":"black","symbolStrokeWidth":0.8,"labelFontSize":8.5,"rowPadding":3.5}}}}
    ]},
   {"width":71,"height":108,
    "encoding":{
     "x":{"field":"age","type":"nominal","scale":{"domain":["2 mo","11 mo","17 mo","23 mo"],"paddingInner":0.4,"paddingOuter":0.25},"axis":{"labelAngle":-45,"ticks":false,"labelFontSize":9,"labelPadding":3},"title":null},
     "y":{"field":"v","type":"quantitative","scale":{"domain":[0,50],"nice":false},"axis":{"values":[0,10,20,30,40,50]},"title":"Time spent around hole (s)"}},
    "layer":[
     {"data":{"name":"d1h"},"mark":{"type":"errorbar","ticks":{"size":4},"color":"black","thickness":0.8},"encoding":{"xOffset":{"field":"h","type":"nominal","scale":{"domain":["Adjacent hole","Target hole"],"paddingInner":0.05}},"yError":{"field":"e"}}},
     {"data":{"name":"d1h"},"mark":{"type":"bar","stroke":"black","strokeWidth":0.6},"encoding":{"xOffset":{"field":"h","type":"nominal","scale":{"domain":["Adjacent hole","Target hole"],"paddingInner":0.05}},"fill":{"field":"h","type":"nominal","scale":{"domain":["Adjacent hole","Target hole"],"range":["white","black"]},"legend":{"orient":"none","legendX":3,"legendY":-39,"title":null,"symbolType":"square","symbolSize":100,"symbolStrokeColor":"black","symbolStrokeWidth":0.8,"labelFontSize":9.5,"rowPadding":3}}}},
     {"data":{"name":"sigD"},"mark":{"type":"rule","color":"black","strokeWidth":0.8},"encoding":{"xOffset":{"datum":"Adjacent hole"},"y":{"field":"lvl","type":"quantitative","scale":{"domain":[0,50],"nice":false},"axis":{"values":[0,10,20,30,40,50]},"title":"Time spent around hole (s)"},"y2":{"field":"adj"}}},
     {"data":{"name":"sigD"},"mark":{"type":"rule","color":"black","strokeWidth":0.8},"encoding":{"xOffset":{"datum":"Target hole"},"y":{"field":"lvl","type":"quantitative","scale":{"domain":[0,50],"nice":false},"axis":{"values":[0,10,20,30,40,50]},"title":"Time spent around hole (s)"},"y2":{"field":"tgt"}}},
     {"data":{"name":"sigD"},"mark":{"type":"tick","orient":"horizontal","size":6,"thickness":0.8,"color":"black"},"encoding":{"y":{"field":"lvl","type":"quantitative","scale":{"domain":[0,50],"nice":false},"axis":{"values":[0,10,20,30,40,50]},"title":"Time spent around hole (s)"}}},
     {"data":{"name":"sigD"},"mark":{"type":"text","baseline":"bottom","dy":-1,"fontSize":11,"color":"black"},"encoding":{"y":{"field":"lvl","type":"quantitative","scale":{"domain":[0,50],"nice":false},"axis":{"values":[0,10,20,30,40,50]},"title":"Time spent around hole (s)"},"text":{"field":"s"}}}
    ]}
  ],
  "spacing":52,"bounds":"flush",
  "title":{"text":"(D)","anchor":"start","frame":"bounds","fontSize":11,"fontWeight":"bold","offset":-23},
  "resolve":{"scale":{"fill":"independent","xOffset":"independent"},"legend":{"fill":"independent"}}},
  {"hconcat":[
   {"width":191,"height":108,
    "title":{"text":"Probe trial (10 d after training)","anchor":"middle","frame":"group","fontSize":10,"fontWeight":"normal","offset":-11,"dx":-10},
    "encoding":{
     "x":{"field":"c","type":"nominal","scale":{"domain":["180","150","120","90","60","30","Target","−30","−60","−90","−120","−150"],"paddingInner":0.15,"paddingOuter":0.15},"axis":{"labelAngle":-45,"ticks":false,"labelFontSize":8.8,"labelPadding":3,"titlePadding":1},"title":"Distance (angle) from target"},
     "y":{"field":"v","type":"quantitative","scale":{"domain":[0,50],"nice":false},"axis":{"values":[0,10,20,30,40,50]},"title":"Time spent around each hole (s)"}},
    "layer":[
     {"data":{"name":"d10"},"mark":{"type":"errorbar","ticks":{"size":3},"color":"black","thickness":0.8},"encoding":{"xOffset":{"field":"a","type":"nominal","scale":{"domain":["4 mo (n = 16)","13 mo (n = 16)","19 mo (n = 15)","25 mo (n = 15)"],"paddingInner":0.08}},"yError":{"field":"e"}}},
     {"data":{"name":"d10"},"mark":{"type":"bar","stroke":"black","strokeWidth":0.6},"encoding":{"xOffset":{"field":"a","type":"nominal","scale":{"domain":["4 mo (n = 16)","13 mo (n = 16)","19 mo (n = 15)","25 mo (n = 15)"],"paddingInner":0.08}},"fill":{"field":"a","type":"nominal","scale":{"domain":["4 mo (n = 16)","13 mo (n = 16)","19 mo (n = 15)","25 mo (n = 15)"],"range":["white","#d4d4d4","#808080","black"]},"legend":{"orient":"none","legendX":131,"legendY":-1,"title":null,"symbolType":"square","symbolSize":90,"symbolStrokeColor":"black","symbolStrokeWidth":0.8,"labelFontSize":8.5,"rowPadding":3.5}}}}
    ]},
   {"width":76,"height":108,
    "encoding":{
     "x":{"field":"age","type":"nominal","scale":{"domain":["2 mo","11 mo","17 mo","23 mo"],"paddingInner":0.4,"paddingOuter":0.25},"axis":{"labelAngle":-45,"ticks":false,"labelFontSize":9,"labelPadding":3},"title":null},
     "y":{"field":"v","type":"quantitative","scale":{"domain":[0,50],"nice":false},"axis":{"values":[0,10,20,30,40,50]},"title":"Time spent around hole (s)"}},
    "layer":[
     {"data":{"name":"d10h"},"mark":{"type":"errorbar","ticks":{"size":4},"color":"black","thickness":0.8},"encoding":{"xOffset":{"field":"h","type":"nominal","scale":{"domain":["Adjacent hole","Target hole"],"paddingInner":0.05}},"yError":{"field":"e"}}},
     {"data":{"name":"d10h"},"mark":{"type":"bar","stroke":"black","strokeWidth":0.6},"encoding":{"xOffset":{"field":"h","type":"nominal","scale":{"domain":["Adjacent hole","Target hole"],"paddingInner":0.05}},"fill":{"field":"h","type":"nominal","scale":{"domain":["Adjacent hole","Target hole"],"range":["white","black"]},"legend":{"orient":"none","legendX":11,"legendY":-39,"title":null,"symbolType":"square","symbolSize":100,"symbolStrokeColor":"black","symbolStrokeWidth":0.8,"labelFontSize":9.5,"rowPadding":3}}}},
     {"data":{"name":"sigE"},"mark":{"type":"rule","color":"black","strokeWidth":0.8},"encoding":{"xOffset":{"datum":"Adjacent hole"},"y":{"field":"lvl","type":"quantitative","scale":{"domain":[0,50],"nice":false},"axis":{"values":[0,10,20,30,40,50]},"title":"Time spent around hole (s)"},"y2":{"field":"adj"}}},
     {"data":{"name":"sigE"},"mark":{"type":"rule","color":"black","strokeWidth":0.8},"encoding":{"xOffset":{"datum":"Target hole"},"y":{"field":"lvl","type":"quantitative","scale":{"domain":[0,50],"nice":false},"axis":{"values":[0,10,20,30,40,50]},"title":"Time spent around hole (s)"},"y2":{"field":"tgt"}}},
     {"data":{"name":"sigE"},"mark":{"type":"tick","orient":"horizontal","size":6,"thickness":0.8,"color":"black"},"encoding":{"y":{"field":"lvl","type":"quantitative","scale":{"domain":[0,50],"nice":false},"axis":{"values":[0,10,20,30,40,50]},"title":"Time spent around hole (s)"}}},
     {"data":{"name":"sigE"},"mark":{"type":"text","baseline":"bottom","dy":-1,"fontSize":11,"color":"black"},"encoding":{"y":{"field":"lvl","type":"quantitative","scale":{"domain":[0,50],"nice":false},"axis":{"values":[0,10,20,30,40,50]},"title":"Time spent around hole (s)"},"text":{"field":"s"}}}
    ]}
  ],
  "spacing":45,"bounds":"flush",
  "title":{"text":"(E)","anchor":"start","frame":"bounds","fontSize":11,"fontWeight":"bold","offset":-23},
  "resolve":{"scale":{"fill":"independent","xOffset":"independent"},"legend":{"fill":"independent"}}}
 ],
 "spacing":8,
 "resolve":{"scale":{"fill":"independent","xOffset":"independent"},"legend":{"fill":"independent"}}},
 {"hconcat":[
   {"width":183,"height":108,
    "title":{"text":"Probe trial (1 d after reversal training)","anchor":"middle","frame":"group","fontSize":10,"fontWeight":"normal","offset":-11,"dx":-5},
    "encoding":{
     "x":{"field":"c","type":"nominal","scale":{"domain":["180","150","120","90","60","30","Target","−30","−60","−90","−120","−150"],"paddingInner":0.15,"paddingOuter":0.15},"axis":{"labelAngle":-45,"ticks":false,"labelFontSize":8.8,"labelPadding":3,"titlePadding":1},"title":"Distance (angle) from target"},
     "y":{"field":"v","type":"quantitative","scale":{"domain":[0,50],"nice":false},"axis":{"values":[0,10,20,30,40,50]},"title":"Time spent around each hole (s)"}},
    "layer":[
     {"data":{"name":"rev"},"mark":{"type":"errorbar","ticks":{"size":3},"color":"black","thickness":0.8},"encoding":{"xOffset":{"field":"a","type":"nominal","scale":{"domain":["5 mo (n = 16)","14 mo (n = 16)","20 mo (n = 15)","26 mo (n = 15)"],"paddingInner":0.08}},"yError":{"field":"e"}}},
     {"data":{"name":"rev"},"mark":{"type":"bar","stroke":"black","strokeWidth":0.6},"encoding":{"xOffset":{"field":"a","type":"nominal","scale":{"domain":["5 mo (n = 16)","14 mo (n = 16)","20 mo (n = 15)","26 mo (n = 15)"],"paddingInner":0.08}},"fill":{"field":"a","type":"nominal","scale":{"domain":["5 mo (n = 16)","14 mo (n = 16)","20 mo (n = 15)","26 mo (n = 15)"],"range":["white","#d4d4d4","#808080","black"]},"legend":{"orient":"none","legendX":125,"legendY":1,"title":null,"symbolType":"square","symbolSize":90,"symbolStrokeColor":"black","symbolStrokeWidth":0.8,"labelFontSize":8.5,"rowPadding":3.5}}}},
     {"data":{"name":"starF"},"mark":{"type":"rule","color":"black","strokeWidth":0.8},"encoding":{"xOffset":{"field":"left","type":"nominal"},"y":{"field":"lvl","type":"quantitative","scale":{"domain":[0,50],"nice":false},"axis":{"values":[0,10,20,30,40,50]},"title":"Time spent around each hole (s)"},"y2":{"field":"lo1"}}},
     {"data":{"name":"starF"},"mark":{"type":"rule","color":"black","strokeWidth":0.8},"encoding":{"xOffset":{"field":"right","type":"nominal"},"y":{"field":"lvl","type":"quantitative","scale":{"domain":[0,50],"nice":false},"axis":{"values":[0,10,20,30,40,50]},"title":"Time spent around each hole (s)"},"y2":{"field":"lo2"}}},
     {"data":{"name":"starF"},"mark":{"type":"tick","orient":"horizontal","size":7,"thickness":0.8,"color":"black"},"encoding":{"xOffset":{"field":"mid","type":"nominal"},"y":{"field":"lvl","type":"quantitative","scale":{"domain":[0,50],"nice":false},"axis":{"values":[0,10,20,30,40,50]},"title":"Time spent around each hole (s)"}}},
     {"data":{"name":"starF"},"mark":{"type":"text","baseline":"bottom","dy":1,"fontSize":12,"color":"black"},"encoding":{"xOffset":{"field":"mid","type":"nominal"},"y":{"field":"lvl","type":"quantitative","scale":{"domain":[0,50],"nice":false},"axis":{"values":[0,10,20,30,40,50]},"title":"Time spent around each hole (s)"},"text":{"field":"s"}}}
    ]},
   {"width":71,"height":108,
    "encoding":{
     "x":{"field":"age","type":"nominal","scale":{"domain":["2 mo","11 mo","17 mo","23 mo"],"paddingInner":0.4,"paddingOuter":0.25},"axis":{"labelAngle":-45,"ticks":false,"labelFontSize":9,"labelPadding":3},"title":null},
     "y":{"field":"v","type":"quantitative","scale":{"domain":[0,50],"nice":false},"axis":{"values":[0,10,20,30,40,50]},"title":"Time spent around hole (s)"}},
    "layer":[
     {"data":{"name":"revh"},"mark":{"type":"errorbar","ticks":{"size":4},"color":"black","thickness":0.8},"encoding":{"xOffset":{"field":"h","type":"nominal","scale":{"domain":["Adjacent hole","Target hole"],"paddingInner":0.05}},"yError":{"field":"e"}}},
     {"data":{"name":"revh"},"mark":{"type":"bar","stroke":"black","strokeWidth":0.6},"encoding":{"xOffset":{"field":"h","type":"nominal","scale":{"domain":["Adjacent hole","Target hole"],"paddingInner":0.05}},"fill":{"field":"h","type":"nominal","scale":{"domain":["Adjacent hole","Target hole"],"range":["white","black"]},"legend":{"orient":"none","legendX":9,"legendY":-33,"title":null,"symbolType":"square","symbolSize":100,"symbolStrokeColor":"black","symbolStrokeWidth":0.8,"labelFontSize":9.5,"rowPadding":3}}}},
     {"data":{"name":"sigF"},"mark":{"type":"rule","color":"black","strokeWidth":0.8},"encoding":{"xOffset":{"datum":"Adjacent hole"},"y":{"field":"lvl","type":"quantitative","scale":{"domain":[0,50],"nice":false},"axis":{"values":[0,10,20,30,40,50]},"title":"Time spent around hole (s)"},"y2":{"field":"adj"}}},
     {"data":{"name":"sigF"},"mark":{"type":"rule","color":"black","strokeWidth":0.8},"encoding":{"xOffset":{"datum":"Target hole"},"y":{"field":"lvl","type":"quantitative","scale":{"domain":[0,50],"nice":false},"axis":{"values":[0,10,20,30,40,50]},"title":"Time spent around hole (s)"},"y2":{"field":"tgt"}}},
     {"data":{"name":"sigF"},"mark":{"type":"tick","orient":"horizontal","size":6,"thickness":0.8,"color":"black"},"encoding":{"y":{"field":"lvl","type":"quantitative","scale":{"domain":[0,50],"nice":false},"axis":{"values":[0,10,20,30,40,50]},"title":"Time spent around hole (s)"}}},
     {"data":{"name":"sigF"},"mark":{"type":"text","baseline":"bottom","dy":-1,"fontSize":11,"color":"black"},"encoding":{"y":{"field":"lvl","type":"quantitative","scale":{"domain":[0,50],"nice":false},"axis":{"values":[0,10,20,30,40,50]},"title":"Time spent around hole (s)"},"text":{"field":"s"}}}
    ]}
 ],
 "spacing":52,"bounds":"flush",
 "title":{"text":"(F)","anchor":"start","frame":"bounds","fontSize":11,"fontWeight":"bold","offset":-25},
 "resolve":{"scale":{"fill":"independent","xOffset":"independent"},"legend":{"fill":"independent"}}}
],
"spacing":8,
"resolve":{"scale":{"fill":"independent","xOffset":"independent"},"legend":{"fill":"independent"}}}
],
"config":{
 "font":"Liberation Sans",
 "view":{"stroke":null},
 "axis":{"domainColor":"black","tickColor":"black","labelColor":"black","titleColor":"black","labelFontSize":9.5,"titleFontSize":9.8,"titleFontWeight":"normal","grid":false,"tickSize":4,"labelPadding":2,"titlePadding":5,"labelOverlap":false,"labelFont":"Liberation Sans","titleFont":"Liberation Sans"},
 "legend":{"labelFontSize":9.5,"labelColor":"black","labelFont":"Liberation Sans"},
 "title":{"color":"black","font":"Liberation Sans","subtitleFont":"Liberation Sans"},
 "text":{"font":"Liberation Sans","color":"black"}
}
}
